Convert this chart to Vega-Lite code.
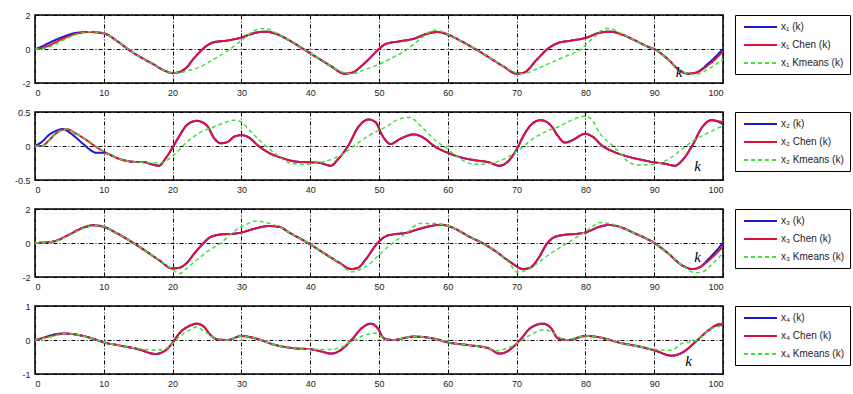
{
"$schema":"https://vega.github.io/schema/vega-lite/v6.json",
"padding":{"left":4,"top":10,"right":0,"bottom":5},
"background":"white",
"spacing":8,
"config":{
 "view":{"stroke":"black","strokeWidth":1.5},
 "axis":{"domain":false,"ticks":false,"labelFont":"Liberation Sans","labelFontSize":9,"labelColor":"#222","title":null,"gridColor":"black","gridDash":[4,2,1,2],"gridWidth":1,"gridOpacity":1},
 "legend":{"strokeColor":"black","fillColor":"white","padding":6,"offset":8,"labelFont":"Liberation Sans","labelFontSize":10,"labelColor":"#222","symbolType":"M-0.6,0H6","symbolSize":100,"symbolStrokeWidth":2,"labelOffset":28,"rowPadding":7,"title":null,"orient":"right"}
},
"resolve":{"scale":{"color":"independent","strokeDash":"independent"},"legend":{"color":"independent","strokeDash":"independent"}},
"datasets":{
"p1":[
{"s":"a","k":0,"v":0},{"s":"a","k":1,"v":0.15},{"s":"a","k":2,"v":0.35},{"s":"a","k":4,"v":0.7},{"s":"a","k":6,"v":0.95},{"s":"a","k":8,"v":1.0},{"s":"a","k":10,"v":0.92},{"s":"a","k":12,"v":0.45},{"s":"a","k":13.5,"v":0.0},{"s":"a","k":15,"v":-0.4},{"s":"a","k":17,"v":-0.85},{"s":"a","k":19,"v":-1.3},{"s":"a","k":20,"v":-1.42},{"s":"a","k":21,"v":-1.35},{"s":"a","k":22,"v":-1.1},{"s":"a","k":23,"v":-0.6},{"s":"a","k":24,"v":-0.15},{"s":"a","k":25,"v":0.2},{"s":"a","k":26,"v":0.4},{"s":"a","k":28,"v":0.5},{"s":"a","k":30,"v":0.68},{"s":"a","k":32,"v":0.95},{"s":"a","k":33.5,"v":1.02},{"s":"a","k":35,"v":0.9},{"s":"a","k":37,"v":0.5},{"s":"a","k":39,"v":0.0},{"s":"a","k":41,"v":-0.5},{"s":"a","k":43,"v":-1.0},{"s":"a","k":45,"v":-1.45},{"s":"a","k":46,"v":-1.4},{"s":"a","k":48,"v":-0.8},{"s":"a","k":50,"v":0.0},{"s":"a","k":51,"v":0.3},{"s":"a","k":53,"v":0.45},{"s":"a","k":55,"v":0.6},{"s":"a","k":57,"v":0.9},{"s":"a","k":58.5,"v":1.0},{"s":"a","k":60,"v":0.85},{"s":"a","k":62,"v":0.45},{"s":"a","k":64,"v":0.0},{"s":"a","k":66,"v":-0.5},{"s":"a","k":68,"v":-1.0},{"s":"a","k":70,"v":-1.45},{"s":"a","k":71,"v":-1.4},{"s":"a","k":73,"v":-0.6},{"s":"a","k":74.5,"v":0.0},{"s":"a","k":76,"v":0.35},{"s":"a","k":78,"v":0.5},{"s":"a","k":80,"v":0.65},{"s":"a","k":82,"v":0.95},{"s":"a","k":83.5,"v":1.02},{"s":"a","k":85,"v":0.9},{"s":"a","k":87,"v":0.55},{"s":"a","k":89,"v":0.15},{"s":"a","k":90,"v":0.0},{"s":"a","k":92,"v":-0.6},{"s":"a","k":94,"v":-1.35},{"s":"a","k":95,"v":-1.45},{"s":"a","k":96,"v":-1.4},{"s":"a","k":98,"v":-0.8},{"s":"a","k":100,"v":0.0},
{"s":"b","k":0,"v":0},{"s":"b","k":1,"v":0.05},{"s":"b","k":2,"v":0.2},{"s":"b","k":4,"v":0.6},{"s":"b","k":6,"v":0.9},{"s":"b","k":8,"v":1.0},{"s":"b","k":10,"v":0.92},{"s":"b","k":12,"v":0.45},{"s":"b","k":13.5,"v":0.0},{"s":"b","k":15,"v":-0.4},{"s":"b","k":17,"v":-0.85},{"s":"b","k":19,"v":-1.3},{"s":"b","k":20,"v":-1.42},{"s":"b","k":21,"v":-1.35},{"s":"b","k":22,"v":-1.1},{"s":"b","k":23,"v":-0.6},{"s":"b","k":24,"v":-0.15},{"s":"b","k":25,"v":0.2},{"s":"b","k":26,"v":0.4},{"s":"b","k":28,"v":0.5},{"s":"b","k":30,"v":0.68},{"s":"b","k":32,"v":0.95},{"s":"b","k":33.5,"v":1.02},{"s":"b","k":35,"v":0.9},{"s":"b","k":37,"v":0.5},{"s":"b","k":39,"v":0.0},{"s":"b","k":41,"v":-0.5},{"s":"b","k":43,"v":-1.0},{"s":"b","k":45,"v":-1.45},{"s":"b","k":46,"v":-1.4},{"s":"b","k":48,"v":-0.8},{"s":"b","k":50,"v":0.0},{"s":"b","k":51,"v":0.3},{"s":"b","k":53,"v":0.45},{"s":"b","k":55,"v":0.6},{"s":"b","k":57,"v":0.9},{"s":"b","k":58.5,"v":1.0},{"s":"b","k":60,"v":0.85},{"s":"b","k":62,"v":0.45},{"s":"b","k":64,"v":0.0},{"s":"b","k":66,"v":-0.5},{"s":"b","k":68,"v":-1.0},{"s":"b","k":70,"v":-1.45},{"s":"b","k":71,"v":-1.4},{"s":"b","k":73,"v":-0.6},{"s":"b","k":74.5,"v":0.0},{"s":"b","k":76,"v":0.35},{"s":"b","k":78,"v":0.5},{"s":"b","k":80,"v":0.65},{"s":"b","k":82,"v":0.95},{"s":"b","k":83.5,"v":1.02},{"s":"b","k":85,"v":0.9},{"s":"b","k":87,"v":0.55},{"s":"b","k":89,"v":0.15},{"s":"b","k":90,"v":0.0},{"s":"b","k":92,"v":-0.6},{"s":"b","k":94,"v":-1.35},{"s":"b","k":95,"v":-1.45},{"s":"b","k":96,"v":-1.4},{"s":"b","k":98,"v":-0.9},{"s":"b","k":100,"v":-0.15},
{"s":"c","k":0,"v":0},{"s":"c","k":2,"v":0.1},{"s":"c","k":4,"v":0.5},{"s":"c","k":6,"v":0.85},{"s":"c","k":8,"v":1.02},{"s":"c","k":10,"v":0.92},{"s":"c","k":12,"v":0.45},{"s":"c","k":13.5,"v":0.0},{"s":"c","k":15,"v":-0.4},{"s":"c","k":17,"v":-0.85},{"s":"c","k":19,"v":-1.3},{"s":"c","k":20,"v":-1.4},{"s":"c","k":21,"v":-1.4},{"s":"c","k":22,"v":-1.3},{"s":"c","k":24,"v":-1.05},{"s":"c","k":26,"v":-0.6},{"s":"c","k":28,"v":-0.1},{"s":"c","k":30,"v":0.5},{"s":"c","k":32,"v":1.1},{"s":"c","k":33,"v":1.2},{"s":"c","k":34,"v":1.15},{"s":"c","k":35,"v":0.95},{"s":"c","k":37,"v":0.5},{"s":"c","k":39,"v":0.0},{"s":"c","k":41,"v":-0.5},{"s":"c","k":43,"v":-1.0},{"s":"c","k":45,"v":-1.4},{"s":"c","k":46,"v":-1.45},{"s":"c","k":48,"v":-1.2},{"s":"c","k":50,"v":-0.9},{"s":"c","k":52,"v":-0.5},{"s":"c","k":54,"v":-0.05},{"s":"c","k":56,"v":0.6},{"s":"c","k":58,"v":1.1},{"s":"c","k":59,"v":1.05},{"s":"c","k":60,"v":0.88},{"s":"c","k":62,"v":0.45},{"s":"c","k":64,"v":0.0},{"s":"c","k":66,"v":-0.5},{"s":"c","k":68,"v":-1.0},{"s":"c","k":70,"v":-1.4},{"s":"c","k":71,"v":-1.45},{"s":"c","k":73,"v":-1.15},{"s":"c","k":75,"v":-0.8},{"s":"c","k":77,"v":-0.45},{"s":"c","k":79,"v":-0.1},{"s":"c","k":81,"v":0.6},{"s":"c","k":83,"v":1.2},{"s":"c","k":84,"v":1.15},{"s":"c","k":85,"v":0.95},{"s":"c","k":87,"v":0.55},{"s":"c","k":89,"v":0.15},{"s":"c","k":90,"v":0.0},{"s":"c","k":92,"v":-0.6},{"s":"c","k":94,"v":-1.3},{"s":"c","k":95,"v":-1.45},{"s":"c","k":96,"v":-1.5},{"s":"c","k":98,"v":-1.15},{"s":"c","k":100,"v":-0.6}
],
"p2":[
{"s":"a","k":0,"v":0},{"s":"a","k":1,"v":0.06},{"s":"a","k":2,"v":0.16},{"s":"a","k":3,"v":0.22},{"s":"a","k":4,"v":0.25},{"s":"a","k":5,"v":0.2},{"s":"a","k":6,"v":0.12},{"s":"a","k":7,"v":0.03},{"s":"a","k":9,"v":-0.1},{"s":"a","k":10,"v":-0.1},{"s":"a","k":12,"v":-0.18},{"s":"a","k":14,"v":-0.23},{"s":"a","k":16,"v":-0.24},{"s":"a","k":17,"v":-0.27},{"s":"a","k":18,"v":-0.29},{"s":"a","k":19,"v":-0.18},{"s":"a","k":20,"v":-0.02},{"s":"a","k":21,"v":0.15},{"s":"a","k":22,"v":0.3},{"s":"a","k":23.5,"v":0.37},{"s":"a","k":25,"v":0.3},{"s":"a","k":26,"v":0.12},{"s":"a","k":27,"v":0.04},{"s":"a","k":28,"v":0.06},{"s":"a","k":29,"v":0.14},{"s":"a","k":30,"v":0.16},{"s":"a","k":31,"v":0.13},{"s":"a","k":32.5,"v":0.0},{"s":"a","k":34,"v":-0.1},{"s":"a","k":36,"v":-0.18},{"s":"a","k":38,"v":-0.23},{"s":"a","k":40,"v":-0.24},{"s":"a","k":41.5,"v":-0.25},{"s":"a","k":43,"v":-0.29},{"s":"a","k":44,"v":-0.2},{"s":"a","k":45.5,"v":0.0},{"s":"a","k":47,"v":0.28},{"s":"a","k":48.5,"v":0.39},{"s":"a","k":49.5,"v":0.35},{"s":"a","k":50.5,"v":0.15},{"s":"a","k":51.7,"v":0.03},{"s":"a","k":53,"v":0.1},{"s":"a","k":55,"v":0.17},{"s":"a","k":56.5,"v":0.12},{"s":"a","k":58,"v":0.0},{"s":"a","k":60,"v":-0.1},{"s":"a","k":62,"v":-0.17},{"s":"a","k":64,"v":-0.21},{"s":"a","k":66,"v":-0.24},{"s":"a","k":67.5,"v":-0.29},{"s":"a","k":68.5,"v":-0.25},{"s":"a","k":70,"v":-0.05},{"s":"a","k":71,"v":0.15},{"s":"a","k":72,"v":0.3},{"s":"a","k":73.5,"v":0.38},{"s":"a","k":75,"v":0.3},{"s":"a","k":76,"v":0.15},{"s":"a","k":77,"v":0.05},{"s":"a","k":78,"v":0.08},{"s":"a","k":80,"v":0.18},{"s":"a","k":81,"v":0.14},{"s":"a","k":82.5,"v":0.0},{"s":"a","k":84,"v":-0.08},{"s":"a","k":86,"v":-0.15},{"s":"a","k":88,"v":-0.2},{"s":"a","k":90,"v":-0.24},{"s":"a","k":91.5,"v":-0.26},{"s":"a","k":93,"v":-0.29},{"s":"a","k":94,"v":-0.22},{"s":"a","k":95.5,"v":0.0},{"s":"a","k":97,"v":0.28},{"s":"a","k":98.3,"v":0.38},{"s":"a","k":99,"v":0.37},{"s":"a","k":100,"v":0.32},
{"s":"b","k":0,"v":0},{"s":"b","k":1,"v":0.0},{"s":"b","k":2,"v":0.08},{"s":"b","k":3,"v":0.18},{"s":"b","k":4.5,"v":0.25},{"s":"b","k":6,"v":0.18},{"s":"b","k":7,"v":0.12},{"s":"b","k":9,"v":-0.02},{"s":"b","k":10,"v":-0.08},{"s":"b","k":12,"v":-0.18},{"s":"b","k":14,"v":-0.23},{"s":"b","k":16,"v":-0.24},{"s":"b","k":17,"v":-0.27},{"s":"b","k":18,"v":-0.29},{"s":"b","k":19,"v":-0.18},{"s":"b","k":20,"v":-0.02},{"s":"b","k":21,"v":0.15},{"s":"b","k":22,"v":0.3},{"s":"b","k":23.5,"v":0.37},{"s":"b","k":25,"v":0.3},{"s":"b","k":26,"v":0.12},{"s":"b","k":27,"v":0.04},{"s":"b","k":28,"v":0.06},{"s":"b","k":29,"v":0.14},{"s":"b","k":30,"v":0.16},{"s":"b","k":31,"v":0.13},{"s":"b","k":32.5,"v":0.0},{"s":"b","k":34,"v":-0.1},{"s":"b","k":36,"v":-0.18},{"s":"b","k":38,"v":-0.23},{"s":"b","k":40,"v":-0.24},{"s":"b","k":41.5,"v":-0.25},{"s":"b","k":43,"v":-0.29},{"s":"b","k":44,"v":-0.2},{"s":"b","k":45.5,"v":0.0},{"s":"b","k":47,"v":0.28},{"s":"b","k":48.5,"v":0.39},{"s":"b","k":49.5,"v":0.35},{"s":"b","k":50.5,"v":0.15},{"s":"b","k":51.7,"v":0.03},{"s":"b","k":53,"v":0.1},{"s":"b","k":55,"v":0.17},{"s":"b","k":56.5,"v":0.12},{"s":"b","k":58,"v":0.0},{"s":"b","k":60,"v":-0.1},{"s":"b","k":62,"v":-0.17},{"s":"b","k":64,"v":-0.21},{"s":"b","k":66,"v":-0.24},{"s":"b","k":67.5,"v":-0.29},{"s":"b","k":68.5,"v":-0.25},{"s":"b","k":70,"v":-0.05},{"s":"b","k":71,"v":0.15},{"s":"b","k":72,"v":0.3},{"s":"b","k":73.5,"v":0.38},{"s":"b","k":75,"v":0.3},{"s":"b","k":76,"v":0.15},{"s":"b","k":77,"v":0.05},{"s":"b","k":78,"v":0.08},{"s":"b","k":80,"v":0.18},{"s":"b","k":81,"v":0.14},{"s":"b","k":82.5,"v":0.0},{"s":"b","k":84,"v":-0.08},{"s":"b","k":86,"v":-0.15},{"s":"b","k":88,"v":-0.2},{"s":"b","k":90,"v":-0.24},{"s":"b","k":91.5,"v":-0.26},{"s":"b","k":93,"v":-0.29},{"s":"b","k":94,"v":-0.22},{"s":"b","k":95.5,"v":0.0},{"s":"b","k":97,"v":0.28},{"s":"b","k":98.3,"v":0.38},{"s":"b","k":99,"v":0.37},{"s":"b","k":100,"v":0.35},
{"s":"c","k":0,"v":0},{"s":"c","k":1,"v":0.0},{"s":"c","k":2,"v":0.08},{"s":"c","k":3,"v":0.18},{"s":"c","k":4.5,"v":0.25},{"s":"c","k":6,"v":0.18},{"s":"c","k":8,"v":0.06},{"s":"c","k":10,"v":-0.08},{"s":"c","k":12,"v":-0.18},{"s":"c","k":14,"v":-0.23},{"s":"c","k":16,"v":-0.24},{"s":"c","k":18,"v":-0.25},{"s":"c","k":19,"v":-0.22},{"s":"c","k":20,"v":-0.15},{"s":"c","k":22,"v":0.05},{"s":"c","k":24,"v":0.2},{"s":"c","k":26,"v":0.28},{"s":"c","k":28,"v":0.36},{"s":"c","k":29,"v":0.38},{"s":"c","k":30,"v":0.35},{"s":"c","k":31,"v":0.25},{"s":"c","k":33,"v":0.05},{"s":"c","k":35,"v":-0.12},{"s":"c","k":37,"v":-0.25},{"s":"c","k":39,"v":-0.27},{"s":"c","k":41,"v":-0.25},{"s":"c","k":43,"v":-0.2},{"s":"c","k":45,"v":-0.1},{"s":"c","k":47,"v":0.05},{"s":"c","k":49,"v":0.18},{"s":"c","k":51,"v":0.28},{"s":"c","k":53,"v":0.4},{"s":"c","k":54.5,"v":0.42},{"s":"c","k":56,"v":0.3},{"s":"c","k":58,"v":0.1},{"s":"c","k":60,"v":-0.05},{"s":"c","k":62,"v":-0.2},{"s":"c","k":64,"v":-0.27},{"s":"c","k":66,"v":-0.26},{"s":"c","k":68,"v":-0.2},{"s":"c","k":70,"v":-0.08},{"s":"c","k":72,"v":0.08},{"s":"c","k":74,"v":0.2},{"s":"c","k":76,"v":0.28},{"s":"c","k":78,"v":0.38},{"s":"c","k":80,"v":0.44},{"s":"c","k":81,"v":0.38},{"s":"c","k":82,"v":0.2},{"s":"c","k":84,"v":0.0},{"s":"c","k":85,"v":-0.1},{"s":"c","k":86.5,"v":-0.25},{"s":"c","k":88,"v":-0.28},{"s":"c","k":90,"v":-0.27},{"s":"c","k":92,"v":-0.2},{"s":"c","k":94,"v":-0.05},{"s":"c","k":96,"v":0.1},{"s":"c","k":98,"v":0.2},{"s":"c","k":100,"v":0.3}
],
"p3":[
{"s":"a","k":0,"v":0},{"s":"a","k":2,"v":0.05},{"s":"a","k":3,"v":0.12},{"s":"a","k":5,"v":0.5},{"s":"a","k":7,"v":0.9},{"s":"a","k":8.5,"v":1.04},{"s":"a","k":10,"v":0.95},{"s":"a","k":12,"v":0.55},{"s":"a","k":14.3,"v":0.0},{"s":"a","k":16,"v":-0.45},{"s":"a","k":18,"v":-1.0},{"s":"a","k":20,"v":-1.5},{"s":"a","k":21,"v":-1.45},{"s":"a","k":22,"v":-1.2},{"s":"a","k":23,"v":-0.7},{"s":"a","k":24.5,"v":0.0},{"s":"a","k":25.5,"v":0.35},{"s":"a","k":27,"v":0.5},{"s":"a","k":29,"v":0.55},{"s":"a","k":30,"v":0.62},{"s":"a","k":32,"v":0.85},{"s":"a","k":34,"v":1.0},{"s":"a","k":35.5,"v":0.95},{"s":"a","k":37,"v":0.6},{"s":"a","k":39.7,"v":0.0},{"s":"a","k":42,"v":-0.6},{"s":"a","k":44,"v":-1.1},{"s":"a","k":46,"v":-1.53},{"s":"a","k":47,"v":-1.45},{"s":"a","k":48,"v":-1.0},{"s":"a","k":49.8,"v":0.0},{"s":"a","k":51,"v":0.4},{"s":"a","k":52,"v":0.5},{"s":"a","k":54,"v":0.6},{"s":"a","k":56,"v":0.85},{"s":"a","k":59,"v":1.07},{"s":"a","k":61,"v":0.85},{"s":"a","k":63,"v":0.4},{"s":"a","k":65,"v":0.0},{"s":"a","k":67,"v":-0.5},{"s":"a","k":69,"v":-1.1},{"s":"a","k":71,"v":-1.53},{"s":"a","k":72,"v":-1.45},{"s":"a","k":73,"v":-1.0},{"s":"a","k":74.5,"v":0.0},{"s":"a","k":75.5,"v":0.35},{"s":"a","k":77,"v":0.48},{"s":"a","k":79,"v":0.55},{"s":"a","k":80,"v":0.62},{"s":"a","k":82,"v":0.95},{"s":"a","k":83.5,"v":1.06},{"s":"a","k":85,"v":0.95},{"s":"a","k":87,"v":0.6},{"s":"a","k":90,"v":0.0},{"s":"a","k":92,"v":-0.6},{"s":"a","k":94,"v":-1.3},{"s":"a","k":95.5,"v":-1.53},{"s":"a","k":96.5,"v":-1.45},{"s":"a","k":98,"v":-0.9},{"s":"a","k":100,"v":0.0},
{"s":"b","k":0,"v":0},{"s":"b","k":2,"v":0.05},{"s":"b","k":3,"v":0.12},{"s":"b","k":5,"v":0.5},{"s":"b","k":7,"v":0.9},{"s":"b","k":8.5,"v":1.04},{"s":"b","k":10,"v":0.95},{"s":"b","k":12,"v":0.55},{"s":"b","k":14.3,"v":0.0},{"s":"b","k":16,"v":-0.45},{"s":"b","k":18,"v":-1.0},{"s":"b","k":20,"v":-1.5},{"s":"b","k":21,"v":-1.45},{"s":"b","k":22,"v":-1.2},{"s":"b","k":23,"v":-0.7},{"s":"b","k":24.5,"v":0.0},{"s":"b","k":25.5,"v":0.35},{"s":"b","k":27,"v":0.5},{"s":"b","k":29,"v":0.55},{"s":"b","k":30,"v":0.62},{"s":"b","k":32,"v":0.85},{"s":"b","k":34,"v":1.0},{"s":"b","k":35.5,"v":0.95},{"s":"b","k":37,"v":0.6},{"s":"b","k":39.7,"v":0.0},{"s":"b","k":42,"v":-0.6},{"s":"b","k":44,"v":-1.1},{"s":"b","k":46,"v":-1.53},{"s":"b","k":47,"v":-1.45},{"s":"b","k":48,"v":-1.0},{"s":"b","k":49.8,"v":0.0},{"s":"b","k":51,"v":0.4},{"s":"b","k":52,"v":0.5},{"s":"b","k":54,"v":0.6},{"s":"b","k":56,"v":0.85},{"s":"b","k":59,"v":1.07},{"s":"b","k":61,"v":0.85},{"s":"b","k":63,"v":0.4},{"s":"b","k":65,"v":0.0},{"s":"b","k":67,"v":-0.5},{"s":"b","k":69,"v":-1.1},{"s":"b","k":71,"v":-1.53},{"s":"b","k":72,"v":-1.45},{"s":"b","k":73,"v":-1.0},{"s":"b","k":74.5,"v":0.0},{"s":"b","k":75.5,"v":0.35},{"s":"b","k":77,"v":0.48},{"s":"b","k":79,"v":0.55},{"s":"b","k":80,"v":0.62},{"s":"b","k":82,"v":0.95},{"s":"b","k":83.5,"v":1.06},{"s":"b","k":85,"v":0.95},{"s":"b","k":87,"v":0.6},{"s":"b","k":90,"v":0.0},{"s":"b","k":92,"v":-0.6},{"s":"b","k":94,"v":-1.3},{"s":"b","k":95.5,"v":-1.53},{"s":"b","k":96.5,"v":-1.45},{"s":"b","k":98,"v":-1.0},{"s":"b","k":100,"v":-0.2},
{"s":"c","k":0,"v":0},{"s":"c","k":2,"v":0.05},{"s":"c","k":3,"v":0.1},{"s":"c","k":5,"v":0.45},{"s":"c","k":7,"v":0.85},{"s":"c","k":9,"v":1.04},{"s":"c","k":10,"v":0.95},{"s":"c","k":12,"v":0.55},{"s":"c","k":14.3,"v":0.0},{"s":"c","k":16,"v":-0.45},{"s":"c","k":18,"v":-1.0},{"s":"c","k":20,"v":-1.55},{"s":"c","k":21,"v":-1.8},{"s":"c","k":22,"v":-1.5},{"s":"c","k":23.5,"v":-1.0},{"s":"c","k":25,"v":-0.52},{"s":"c","k":27,"v":0.0},{"s":"c","k":29,"v":0.7},{"s":"c","k":31,"v":1.15},{"s":"c","k":32,"v":1.3},{"s":"c","k":33.5,"v":1.2},{"s":"c","k":35.5,"v":0.95},{"s":"c","k":37,"v":0.6},{"s":"c","k":39.7,"v":0.0},{"s":"c","k":42,"v":-0.6},{"s":"c","k":44,"v":-1.1},{"s":"c","k":46,"v":-1.7},{"s":"c","k":47,"v":-1.6},{"s":"c","k":49,"v":-1.1},{"s":"c","k":50,"v":-0.7},{"s":"c","k":52,"v":0.0},{"s":"c","k":54,"v":0.6},{"s":"c","k":56,"v":1.15},{"s":"c","k":58,"v":1.15},{"s":"c","k":60,"v":1.0},{"s":"c","k":61,"v":0.85},{"s":"c","k":63,"v":0.4},{"s":"c","k":65,"v":0.0},{"s":"c","k":67,"v":-0.5},{"s":"c","k":69,"v":-1.2},{"s":"c","k":70,"v":-1.7},{"s":"c","k":71.5,"v":-1.6},{"s":"c","k":73,"v":-1.2},{"s":"c","k":75,"v":-0.6},{"s":"c","k":77,"v":-0.1},{"s":"c","k":79,"v":0.4},{"s":"c","k":81,"v":0.95},{"s":"c","k":82,"v":1.2},{"s":"c","k":83.5,"v":1.15},{"s":"c","k":85,"v":0.95},{"s":"c","k":87,"v":0.6},{"s":"c","k":90,"v":0.0},{"s":"c","k":92,"v":-0.6},{"s":"c","k":94,"v":-1.3},{"s":"c","k":96,"v":-1.75},{"s":"c","k":97,"v":-1.7},{"s":"c","k":98.5,"v":-1.2},{"s":"c","k":100,"v":-0.6}
],
"p4":[
{"s":"a","k":0,"v":0},{"s":"a","k":1,"v":0.05},{"s":"a","k":2,"v":0.12},{"s":"a","k":4,"v":0.19},{"s":"a","k":7,"v":0.12},{"s":"a","k":9,"v":0.0},{"s":"a","k":10,"v":-0.07},{"s":"a","k":12,"v":-0.15},{"s":"a","k":15,"v":-0.27},{"s":"a","k":17.5,"v":-0.41},{"s":"a","k":19,"v":-0.3},{"s":"a","k":20,"v":-0.08},{"s":"a","k":21,"v":0.2},{"s":"a","k":22.5,"v":0.42},{"s":"a","k":23.5,"v":0.48},{"s":"a","k":24.5,"v":0.4},{"s":"a","k":25.5,"v":0.15},{"s":"a","k":26.5,"v":0.02},{"s":"a","k":28,"v":0.0},{"s":"a","k":30,"v":0.12},{"s":"a","k":32,"v":0.05},{"s":"a","k":35,"v":-0.15},{"s":"a","k":38,"v":-0.25},{"s":"a","k":40,"v":-0.27},{"s":"a","k":41.5,"v":-0.33},{"s":"a","k":43,"v":-0.4},{"s":"a","k":44,"v":-0.35},{"s":"a","k":46,"v":0.0},{"s":"a","k":47.5,"v":0.35},{"s":"a","k":48.8,"v":0.48},{"s":"a","k":49.8,"v":0.35},{"s":"a","k":50.7,"v":0.05},{"s":"a","k":52,"v":0.0},{"s":"a","k":55,"v":0.1},{"s":"a","k":58,"v":0.04},{"s":"a","k":60,"v":-0.07},{"s":"a","k":63,"v":-0.15},{"s":"a","k":66,"v":-0.25},{"s":"a","k":67.5,"v":-0.4},{"s":"a","k":68.5,"v":-0.35},{"s":"a","k":70.5,"v":0.0},{"s":"a","k":72,"v":0.35},{"s":"a","k":73.8,"v":0.48},{"s":"a","k":75,"v":0.35},{"s":"a","k":76,"v":0.05},{"s":"a","k":77.5,"v":0.0},{"s":"a","k":80,"v":0.12},{"s":"a","k":82,"v":0.08},{"s":"a","k":85,"v":-0.08},{"s":"a","k":88,"v":-0.2},{"s":"a","k":90,"v":-0.3},{"s":"a","k":92.5,"v":-0.46},{"s":"a","k":94,"v":-0.38},{"s":"a","k":96.3,"v":0.0},{"s":"a","k":98,"v":0.3},{"s":"a","k":99.5,"v":0.45},{"s":"a","k":100,"v":0.45},
{"s":"b","k":0,"v":0},{"s":"b","k":2,"v":0.1},{"s":"b","k":4.5,"v":0.19},{"s":"b","k":7,"v":0.12},{"s":"b","k":9,"v":0.0},{"s":"b","k":10,"v":-0.07},{"s":"b","k":12,"v":-0.15},{"s":"b","k":15,"v":-0.27},{"s":"b","k":17.5,"v":-0.41},{"s":"b","k":19,"v":-0.3},{"s":"b","k":20,"v":-0.08},{"s":"b","k":21,"v":0.2},{"s":"b","k":22.5,"v":0.42},{"s":"b","k":23.5,"v":0.48},{"s":"b","k":24.5,"v":0.4},{"s":"b","k":25.5,"v":0.15},{"s":"b","k":26.5,"v":0.02},{"s":"b","k":28,"v":0.0},{"s":"b","k":30,"v":0.12},{"s":"b","k":32,"v":0.05},{"s":"b","k":35,"v":-0.15},{"s":"b","k":38,"v":-0.25},{"s":"b","k":40,"v":-0.27},{"s":"b","k":41.5,"v":-0.33},{"s":"b","k":43,"v":-0.4},{"s":"b","k":44,"v":-0.35},{"s":"b","k":46,"v":0.0},{"s":"b","k":47.5,"v":0.35},{"s":"b","k":48.8,"v":0.48},{"s":"b","k":49.8,"v":0.35},{"s":"b","k":50.7,"v":0.05},{"s":"b","k":52,"v":0.0},{"s":"b","k":55,"v":0.1},{"s":"b","k":58,"v":0.04},{"s":"b","k":60,"v":-0.07},{"s":"b","k":63,"v":-0.15},{"s":"b","k":66,"v":-0.25},{"s":"b","k":67.5,"v":-0.4},{"s":"b","k":68.5,"v":-0.35},{"s":"b","k":70.5,"v":0.0},{"s":"b","k":72,"v":0.35},{"s":"b","k":73.8,"v":0.48},{"s":"b","k":75,"v":0.35},{"s":"b","k":76,"v":0.05},{"s":"b","k":77.5,"v":0.0},{"s":"b","k":80,"v":0.12},{"s":"b","k":82,"v":0.08},{"s":"b","k":85,"v":-0.08},{"s":"b","k":88,"v":-0.2},{"s":"b","k":90,"v":-0.3},{"s":"b","k":92.5,"v":-0.46},{"s":"b","k":94,"v":-0.38},{"s":"b","k":96.3,"v":0.0},{"s":"b","k":98,"v":0.3},{"s":"b","k":99.5,"v":0.47},{"s":"b","k":100,"v":0.46},
{"s":"c","k":0,"v":0},{"s":"c","k":2,"v":0.08},{"s":"c","k":4.5,"v":0.19},{"s":"c","k":7,"v":0.12},{"s":"c","k":9,"v":0.0},{"s":"c","k":10,"v":-0.07},{"s":"c","k":12,"v":-0.15},{"s":"c","k":15,"v":-0.25},{"s":"c","k":17.5,"v":-0.3},{"s":"c","k":19,"v":-0.25},{"s":"c","k":20,"v":-0.1},{"s":"c","k":21,"v":0.1},{"s":"c","k":22.5,"v":0.3},{"s":"c","k":23.5,"v":0.38},{"s":"c","k":25,"v":0.2},{"s":"c","k":26.5,"v":0.03},{"s":"c","k":28,"v":0.0},{"s":"c","k":30,"v":0.12},{"s":"c","k":32,"v":0.05},{"s":"c","k":35,"v":-0.15},{"s":"c","k":38,"v":-0.25},{"s":"c","k":40,"v":-0.27},{"s":"c","k":42,"v":-0.28},{"s":"c","k":44,"v":-0.25},{"s":"c","k":46,"v":-0.05},{"s":"c","k":48,"v":0.15},{"s":"c","k":49.5,"v":0.2},{"s":"c","k":50.7,"v":0.05},{"s":"c","k":52,"v":0.0},{"s":"c","k":55,"v":0.1},{"s":"c","k":58,"v":0.04},{"s":"c","k":60,"v":-0.07},{"s":"c","k":63,"v":-0.15},{"s":"c","k":66,"v":-0.25},{"s":"c","k":67,"v":-0.32},{"s":"c","k":68.5,"v":-0.25},{"s":"c","k":70.5,"v":-0.05},{"s":"c","k":72,"v":0.15},{"s":"c","k":74,"v":0.3},{"s":"c","k":75.5,"v":0.2},{"s":"c","k":77,"v":0.0},{"s":"c","k":80,"v":0.12},{"s":"c","k":82,"v":0.08},{"s":"c","k":85,"v":-0.08},{"s":"c","k":88,"v":-0.2},{"s":"c","k":90,"v":-0.28},{"s":"c","k":92.5,"v":-0.3},{"s":"c","k":94,"v":-0.1},{"s":"c","k":96.3,"v":0.0},{"s":"c","k":98,"v":0.3},{"s":"c","k":100,"v":0.42}
]
},
"vconcat":[
{"width":688,"height":68,"data":{"name":"p1"},
 "encoding":{"x":{"field":"k","type":"quantitative","scale":{"domain":[0,100],"nice":false},"axis":{"values":[0,10,20,30,40,50,60,70,80,90,100],"labelPadding":5,"minExtent":15,"maxExtent":15}},
  "y":{"field":"v","type":"quantitative","scale":{"domain":[-2,2],"nice":false},"axis":{"values":[-2,0,2],"labelExpr":"'' + datum.value","labelPadding":5,"minExtent":30,"maxExtent":30}},
  "color":{"field":"s","type":"nominal","scale":{"domain":["a","b","c"],"range":["#1a1ad0","#e0103c","#3ee03e"]},"legend":{"labelExpr":"datum.value=='a' ? 'x₁ (k)' : datum.value=='b' ? 'x₁ Chen (k)' : 'x₁ Kmeans (k)'"}},
  "strokeDash":{"field":"s","type":"nominal","scale":{"domain":["a","b","c"],"range":[[1,0],[1,0],[4,3]]},"legend":{"labelExpr":"datum.value=='a' ? 'x₁ (k)' : datum.value=='b' ? 'x₁ Chen (k)' : 'x₁ Kmeans (k)'"}}},
 "layer":[
  {"transform":[{"filter":"datum.s=='a'"}],"mark":{"type":"line","strokeWidth":2,"interpolate":"monotone"}},
  {"transform":[{"filter":"datum.s=='b'"}],"mark":{"type":"line","strokeWidth":2,"interpolate":"monotone"}},
  {"transform":[{"filter":"datum.s=='c'"}],"mark":{"type":"line","strokeWidth":1.5,"interpolate":"monotone"}},
  {"data":{"values":[{"k":93.6,"v":-1.35,"t":"k"}]},"mark":{"type":"text","font":"Liberation Serif","fontStyle":"italic","fontSize":15,"color":"black"},"encoding":{"text":{"field":"t"},"color":{"value":"black"},"strokeDash":{"value":[1,0]}}}
 ]},
{"width":688,"height":68,"data":{"name":"p2"},
 "encoding":{"x":{"field":"k","type":"quantitative","scale":{"domain":[0,100],"nice":false},"axis":{"values":[0,10,20,30,40,50,60,70,80,90,100],"labelPadding":5,"minExtent":15,"maxExtent":15}},
  "y":{"field":"v","type":"quantitative","scale":{"domain":[-0.5,0.5],"nice":false},"axis":{"values":[-0.5,0,0.5],"labelExpr":"'' + datum.value","labelPadding":5,"minExtent":30,"maxExtent":30}},
  "color":{"field":"s","type":"nominal","scale":{"domain":["a","b","c"],"range":["#1a1ad0","#e0103c","#3ee03e"]},"legend":{"labelExpr":"datum.value=='a' ? 'x₂ (k)' : datum.value=='b' ? 'x₂ Chen (k)' : 'x₂ Kmeans (k)'"}},
  "strokeDash":{"field":"s","type":"nominal","scale":{"domain":["a","b","c"],"range":[[1,0],[1,0],[4,3]]},"legend":{"labelExpr":"datum.value=='a' ? 'x₂ (k)' : datum.value=='b' ? 'x₂ Chen (k)' : 'x₂ Kmeans (k)'"}}},
 "layer":[
  {"transform":[{"filter":"datum.s=='a'"}],"mark":{"type":"line","strokeWidth":2,"interpolate":"monotone"}},
  {"transform":[{"filter":"datum.s=='b'"}],"mark":{"type":"line","strokeWidth":2,"interpolate":"monotone"}},
  {"transform":[{"filter":"datum.s=='c'"}],"mark":{"type":"line","strokeWidth":1.5,"interpolate":"monotone"}},
  {"data":{"values":[{"k":96.3,"v":-0.3,"t":"k"}]},"mark":{"type":"text","font":"Liberation Serif","fontStyle":"italic","fontSize":15,"color":"black"},"encoding":{"text":{"field":"t"},"color":{"value":"black"},"strokeDash":{"value":[1,0]}}}
 ]},
{"width":688,"height":68,"data":{"name":"p3"},
 "encoding":{"x":{"field":"k","type":"quantitative","scale":{"domain":[0,100],"nice":false},"axis":{"values":[0,10,20,30,40,50,60,70,80,90,100],"labelPadding":5,"minExtent":15,"maxExtent":15}},
  "y":{"field":"v","type":"quantitative","scale":{"domain":[-2,2],"nice":false},"axis":{"values":[-2,0,2],"labelExpr":"'' + datum.value","labelPadding":5,"minExtent":30,"maxExtent":30}},
  "color":{"field":"s","type":"nominal","scale":{"domain":["a","b","c"],"range":["#1a1ad0","#e0103c","#3ee03e"]},"legend":{"labelExpr":"datum.value=='a' ? 'x₃ (k)' : datum.value=='b' ? 'x₃ Chen (k)' : 'x₃ Kmeans (k)'"}},
  "strokeDash":{"field":"s","type":"nominal","scale":{"domain":["a","b","c"],"range":[[1,0],[1,0],[4,3]]},"legend":{"labelExpr":"datum.value=='a' ? 'x₃ (k)' : datum.value=='b' ? 'x₃ Chen (k)' : 'x₃ Kmeans (k)'"}}},
 "layer":[
  {"transform":[{"filter":"datum.s=='a'"}],"mark":{"type":"line","strokeWidth":2,"interpolate":"monotone"}},
  {"transform":[{"filter":"datum.s=='b'"}],"mark":{"type":"line","strokeWidth":2,"interpolate":"monotone"}},
  {"transform":[{"filter":"datum.s=='c'"}],"mark":{"type":"line","strokeWidth":1.5,"interpolate":"monotone"}},
  {"data":{"values":[{"k":96.3,"v":-0.85,"t":"k"}]},"mark":{"type":"text","font":"Liberation Serif","fontStyle":"italic","fontSize":15,"color":"black"},"encoding":{"text":{"field":"t"},"color":{"value":"black"},"strokeDash":{"value":[1,0]}}}
 ]},
{"width":688,"height":68,"data":{"name":"p4"},
 "encoding":{"x":{"field":"k","type":"quantitative","scale":{"domain":[0,100],"nice":false},"axis":{"values":[0,10,20,30,40,50,60,70,80,90,100],"labelPadding":5,"minExtent":15,"maxExtent":15}},
  "y":{"field":"v","type":"quantitative","scale":{"domain":[-1,1],"nice":false},"axis":{"values":[-1,0,1],"labelExpr":"'' + datum.value","labelPadding":5,"minExtent":30,"maxExtent":30}},
  "color":{"field":"s","type":"nominal","scale":{"domain":["a","b","c"],"range":["#1a1ad0","#e0103c","#3ee03e"]},"legend":{"labelExpr":"datum.value=='a' ? 'x₄ (k)' : datum.value=='b' ? 'x₄ Chen (k)' : 'x₄ Kmeans (k)'"}},
  "strokeDash":{"field":"s","type":"nominal","scale":{"domain":["a","b","c"],"range":[[1,0],[1,0],[4,3]]},"legend":{"labelExpr":"datum.value=='a' ? 'x₄ (k)' : datum.value=='b' ? 'x₄ Chen (k)' : 'x₄ Kmeans (k)'"}}},
 "layer":[
  {"transform":[{"filter":"datum.s=='a'"}],"mark":{"type":"line","strokeWidth":2,"interpolate":"monotone"}},
  {"transform":[{"filter":"datum.s=='b'"}],"mark":{"type":"line","strokeWidth":2,"interpolate":"monotone"}},
  {"transform":[{"filter":"datum.s=='c'"}],"mark":{"type":"line","strokeWidth":1.5,"interpolate":"monotone"}},
  {"data":{"values":[{"k":95,"v":-0.62,"t":"k"}]},"mark":{"type":"text","font":"Liberation Serif","fontStyle":"italic","fontSize":15,"color":"black"},"encoding":{"text":{"field":"t"},"color":{"value":"black"},"strokeDash":{"value":[1,0]}}}
 ]}
]
}
